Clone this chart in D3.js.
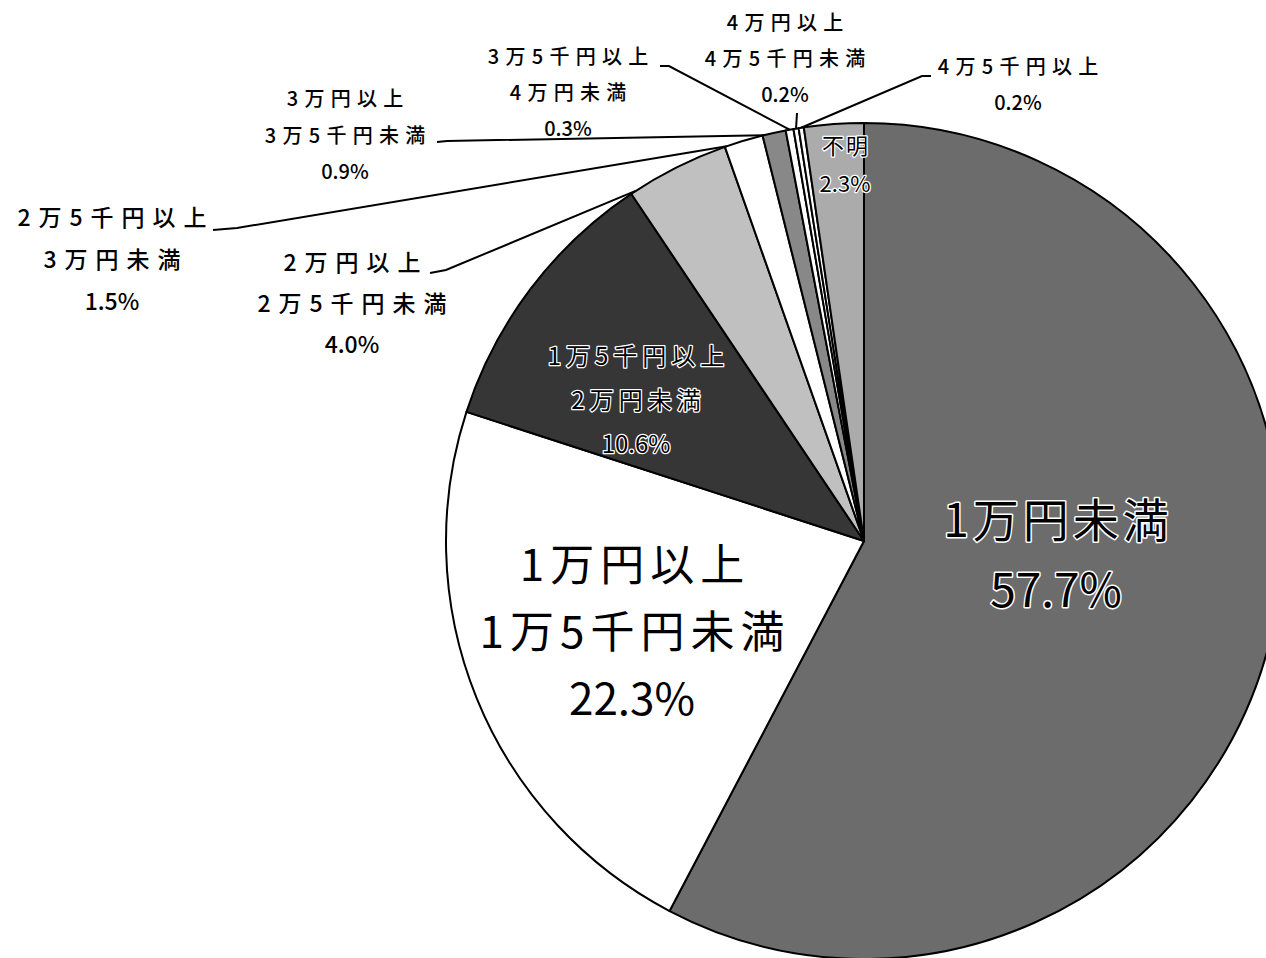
<!DOCTYPE html>
<html>
<head>
<meta charset="utf-8">
<script src="https://cdn.jsdelivr.net/npm/d3@7/dist/d3.min.js"></script>
<style>
  html, body { margin: 0; padding: 0; background: #fff; }
  svg { display: block; }
  text { font-family: "Noto Sans CJK JP", "Noto Sans", sans-serif; }
</style>
</head>
<body>
<svg id="chart" width="1266" height="958"></svg>
<script>
// Monthly amount brackets and their share (%)
const categories = [
  "1万円未満",
  "1万円以上1万5千円未満",
  "1万5千円以上2万円未満",
  "2万円以上2万5千円未満",
  "2万5千円以上3万円未満",
  "3万円以上3万5千円未満",
  "3万5千円以上4万円未満",
  "4万円以上4万5千円未満",
  "4万5千円以上",
  "不明"
];
const shares = [57.7, 22.3, 10.6, 4.0, 1.5, 0.9, 0.3, 0.2, 0.2, 2.3];

// Slice fills (grey shades)
const fills = ["#6c6c6c", "#ffffff", "#363636", "#c0c0c0", "#ffffff",
               "#888888", "#ffffff", "#ffffff", "#ffffff", "#ababab"];

// Label placement: x/y = centre of first line, gap = line spacing,
// halo = dark text with white outline, leader = polyline start + point on slice
const labelLayout = [
  { x: 1056, y: 520, gap: 70, size: 46, ls: 4, halo: true },
  { x: 632, y: 565, gap: 67, size: 44, ls: 6 },
  { x: 636, y: 356, gap: 44, size: 24, ls: 5, halo: true },
  { x: 352, y: 263, gap: 41, size: 23, ls: 8, weight: 500, leader: { pts: [[430, 273], [446, 270]], at: 0.05 } },
  { x: 112, y: 218, gap: 42, size: 23, ls: 8, weight: 500, leader: { pts: [[213, 230], [237, 228]], at: 0.05 } },
  { x: 345, y: 99, gap: 36.5, size: 20, ls: 6.3, weight: 500, leader: { pts: [[437, 142], [447, 141]], at: 0.05 } },
  { x: 568, y: 57, gap: 36, size: 20, ls: 6.3, weight: 500, leader: { pts: [[660, 66], [669, 66]], at: 0.5 } },
  { x: 785, y: 23, gap: 36, size: 20, ls: 6.3, weight: 500, leader: { pts: [[797, 113]], at: 0.5 } },
  { x: 1018, y: 67, gap: 36, size: 20, ls: 6.3, weight: 500, leader: { pts: [[931, 76], [922, 76]], at: 0.5 } },
  { x: 845, y: 146, gap: 38, size: 22, ls: 2, halo: true }
];

const cx = 864, cy = 541, radius = 418;
const svg = d3.select("#chart");
const g = svg.append("g").attr("transform", `translate(${cx},${cy})`);

const pie = d3.pie().sort(null).value(d => d);
const arcs = pie(shares);
const arc = d3.arc().innerRadius(0).outerRadius(radius);

g.selectAll("path.slice")
  .data(arcs)
  .join("path")
  .attr("class", "slice")
  .attr("d", arc)
  .attr("fill", (d, i) => fills[i])
  .attr("stroke", "#000")
  .attr("stroke-width", 2)
  .attr("stroke-linejoin", "round");

// Point on the rim of a slice
function rimPoint(d, t) {
  const a = d.startAngle + t * (d.endAngle - d.startAngle);
  return [cx + Math.sin(a) * radius, cy - Math.cos(a) * radius];
}

// Leader lines
const line = d3.line();
arcs.forEach((d, i) => {
  const L = labelLayout[i].leader;
  if (!L) return;
  const pts = L.pts.concat([rimPoint(d, L.at)]);
  svg.append("path")
    .attr("d", line(pts))
    .attr("fill", "none")
    .attr("stroke", "#000")
    .attr("stroke-width", 2);
});

// Labels
arcs.forEach((d, i) => {
  const lay = labelLayout[i];
  const lines = categories[i].replace(/以上(?=.)/, "以上\n").split("\n");
  lines.push(shares[i].toFixed(1) + "%");
  const t = svg.append("text")
    .attr("text-anchor", "middle")
    .attr("font-size", lay.size)
    .attr("font-weight", lay.weight || 400)
    .attr("fill", "#000");
  if (lay.halo) {
    t.attr("stroke", "#fff")
     .attr("stroke-width", lay.size > 30 ? 3 : 2.5)
     .attr("paint-order", "stroke")
     .attr("stroke-linejoin", "round");
  }
  lines.forEach((s, k) => {
    const isPct = k === lines.length - 1;
    const ls = isPct ? 0 : lay.ls;
    t.append("tspan")
      .attr("x", lay.x + ls / 2)
      .attr("y", lay.y + k * lay.gap)
      .attr("dy", "0.36em")
      .attr("letter-spacing", ls)
      .text(s);
  });
});
</script>
</body>
</html>
